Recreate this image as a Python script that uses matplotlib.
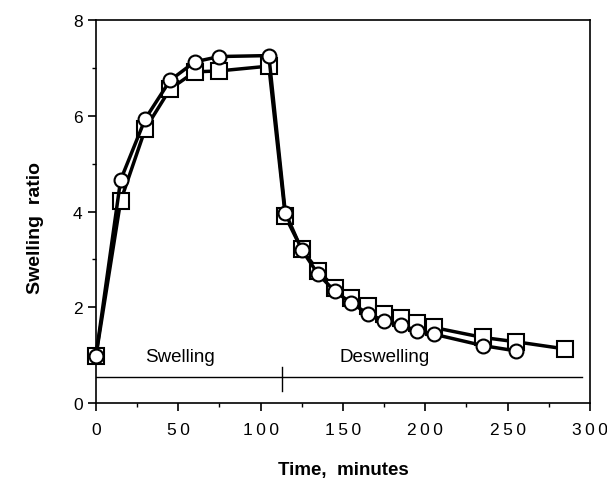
import matplotlib.pyplot as plt
from matplotlib.ticker import MultipleLocator, FuncFormatter

plt.rcParams['font.family'] = ['Liberation Sans', 'DejaVu Sans']

# Data
time_circle = [0, 15, 30, 45, 60, 75, 105, 115, 125, 135, 145, 155, 165, 175, 185, 195, 205, 235, 255]
ratio_circle = [0.98, 4.66, 5.94, 6.74, 7.13, 7.24, 7.26, 3.98, 3.20, 2.69, 2.34, 2.09, 1.87, 1.72,
                1.63, 1.51, 1.44, 1.20, 1.09]
time_square = [0, 15, 30, 45, 60, 75, 105, 115, 125, 135, 145, 155, 165, 175, 185, 195, 205, 235, 255, 285]
ratio_square = [0.98, 4.22, 5.73, 6.56, 6.92, 6.94, 7.04, 3.90, 3.21, 2.76, 2.41, 2.20, 2.02, 1.86,
                1.77, 1.68, 1.58, 1.37, 1.28, 1.13]

fig = plt.figure(figsize=(6.07, 4.81), dpi=100)
ax = fig.add_axes([0.158, 0.16, 0.814, 0.796])

ax.plot(time_square, ratio_square, color='black', lw=2.5, marker='s', markersize=12,
        markerfacecolor='white', markeredgecolor='black', markeredgewidth=1.5, zorder=3, clip_on=False)
ax.plot(time_circle, ratio_circle, color='black', lw=2.5, marker='o', markersize=10,
        markerfacecolor='white', markeredgecolor='black', markeredgewidth=1.5, zorder=4, clip_on=False)

# Swelling / deswelling phase marker
ax.plot([0, 295], [0.55, 0.55], color='black', lw=1)
ax.plot([113, 113], [0.25, 0.75], color='black', lw=1)
ax.text(51, 0.97, 'Swelling', ha='center', va='center', fontsize=13.5)
ax.text(175, 0.97, 'Deswelling', ha='center', va='center', fontsize=13.5)

ax.set_xlim(0, 300)
ax.set_ylim(0, 8)
ax.xaxis.set_major_locator(MultipleLocator(50))
ax.xaxis.set_minor_locator(MultipleLocator(25))
ax.yaxis.set_major_locator(MultipleLocator(2))
ax.yaxis.set_minor_locator(MultipleLocator(1))

# spaced-out digits like the original typesetting
spaced = FuncFormatter(lambda v, p: '\u2009'.join(str(int(v))))
ax.xaxis.set_major_formatter(spaced)
ax.tick_params(which='major', length=6, width=1.2, labelsize=12.5)
ax.tick_params(axis='x', which='major', pad=8)
ax.tick_params(which='minor', length=3, width=1)
for s in ax.spines.values():
    s.set_linewidth(1.2)

ax.set_xlabel('Time,  minutes', fontsize=13.5, fontweight='bold', labelpad=17)
ax.set_ylabel('Swelling  ratio', fontsize=14, fontweight='bold')
ax.yaxis.set_label_coords(-0.105, 0.46)

plt.savefig('out.png', dpi=100)
